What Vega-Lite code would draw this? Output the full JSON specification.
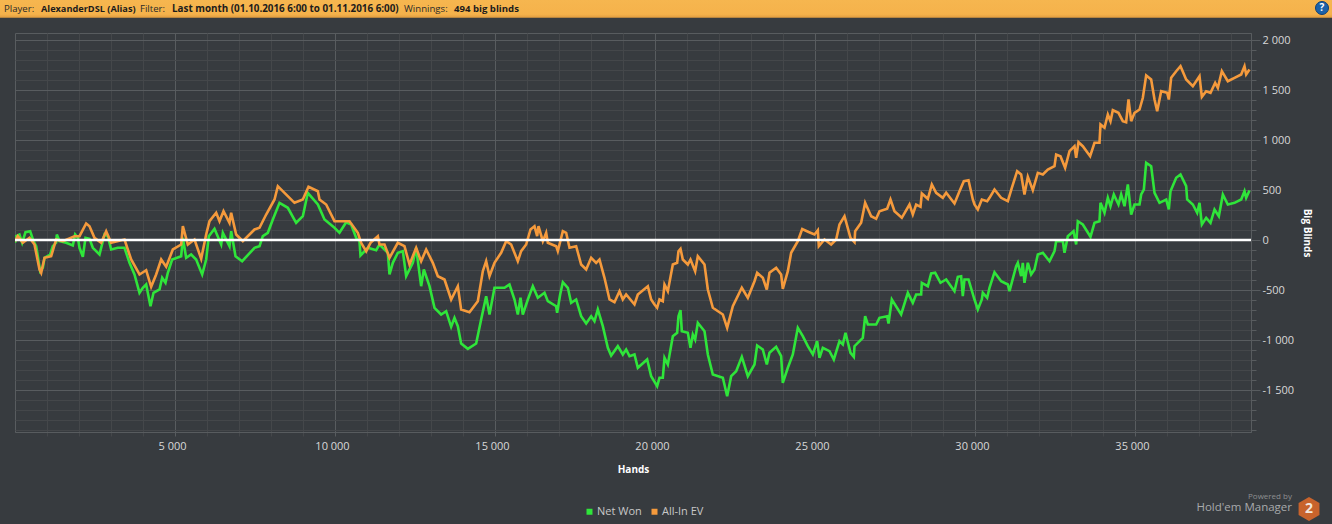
{
  "$schema": "https://vega.github.io/schema/vega-lite/v6.json",
  "description": "Hold'em Manager winnings graph, net won against all-in EV.",
  "width": 1236,
  "height": 399,
  "autosize": "none",
  "padding": {"left": 15, "top": 33, "right": 81, "bottom": 92},
  "background": "#373b3f",
  "view": {"stroke": "#585c5f", "strokeWidth": 1},
  "datasets": {
    "curves": [
      {"hands":0,"series":"Net Won","bb":-28},{"hands":36,"series":"Net Won","bb":38},{"hands":140,"series":"Net Won","bb":55},{"hands":224,"series":"Net Won","bb":-28},{"hands":328,"series":"Net Won","bb":78},{"hands":474,"series":"Net Won","bb":88},{"hands":578,"series":"Net Won","bb":-12},{"hands":661,"series":"Net Won","bb":-62},{"hands":713,"series":"Net Won","bb":-162},{"hands":786,"series":"Net Won","bb":-312},{"hands":870,"series":"Net Won","bb":-278},{"hands":922,"series":"Net Won","bb":-178},{"hands":1099,"series":"Net Won","bb":-145},{"hands":1182,"series":"Net Won","bb":-62},{"hands":1286,"series":"Net Won","bb":-28},{"hands":1307,"series":"Net Won","bb":55},{"hands":1390,"series":"Net Won","bb":-12},{"hands":1599,"series":"Net Won","bb":-28},{"hands":1807,"series":"Net Won","bb":-55},{"hands":1880,"series":"Net Won","bb":55},{"hands":1964,"series":"Net Won","bb":22},{"hands":2016,"series":"Net Won","bb":-78},{"hands":2120,"series":"Net Won","bb":-168},{"hands":2203,"series":"Net Won","bb":22},{"hands":2328,"series":"Net Won","bb":12},{"hands":2432,"series":"Net Won","bb":-78},{"hands":2641,"series":"Net Won","bb":-145},{"hands":2797,"series":"Net Won","bb":55},{"hands":2901,"series":"Net Won","bb":38},{"hands":3005,"series":"Net Won","bb":-95},{"hands":3214,"series":"Net Won","bb":-78},{"hands":3422,"series":"Net Won","bb":-78},{"hands":3578,"series":"Net Won","bb":-228},{"hands":3734,"series":"Net Won","bb":-345},{"hands":3891,"series":"Net Won","bb":-528},{"hands":3995,"series":"Net Won","bb":-478},{"hands":4099,"series":"Net Won","bb":-445},{"hands":4234,"series":"Net Won","bb":-662},{"hands":4328,"series":"Net Won","bb":-528},{"hands":4516,"series":"Net Won","bb":-495},{"hands":4599,"series":"Net Won","bb":-378},{"hands":4703,"series":"Net Won","bb":-428},{"hands":4776,"series":"Net Won","bb":-328},{"hands":4911,"series":"Net Won","bb":-195},{"hands":5193,"series":"Net Won","bb":-162},{"hands":5245,"series":"Net Won","bb":22},{"hands":5349,"series":"Net Won","bb":-178},{"hands":5505,"series":"Net Won","bb":-145},{"hands":5661,"series":"Net Won","bb":-195},{"hands":5849,"series":"Net Won","bb":-345},{"hands":5974,"series":"Net Won","bb":-195},{"hands":6057,"series":"Net Won","bb":38},{"hands":6234,"series":"Net Won","bb":112},{"hands":6443,"series":"Net Won","bb":-45},{"hands":6495,"series":"Net Won","bb":72},{"hands":6703,"series":"Net Won","bb":-62},{"hands":6755,"series":"Net Won","bb":88},{"hands":6891,"series":"Net Won","bb":-162},{"hands":7099,"series":"Net Won","bb":-212},{"hands":7485,"series":"Net Won","bb":-78},{"hands":7641,"series":"Net Won","bb":-62},{"hands":7745,"series":"Net Won","bb":38},{"hands":7901,"series":"Net Won","bb":72},{"hands":8057,"series":"Net Won","bb":205},{"hands":8266,"series":"Net Won","bb":372},{"hands":8526,"series":"Net Won","bb":322},{"hands":8786,"series":"Net Won","bb":172},{"hands":8995,"series":"Net Won","bb":238},{"hands":9151,"series":"Net Won","bb":472},{"hands":9464,"series":"Net Won","bb":355},{"hands":9672,"series":"Net Won","bb":205},{"hands":9984,"series":"Net Won","bb":122},{"hands":10140,"series":"Net Won","bb":72},{"hands":10349,"series":"Net Won","bb":178},{"hands":10505,"series":"Net Won","bb":155},{"hands":10661,"series":"Net Won","bb":22},{"hands":10765,"series":"Net Won","bb":-12},{"hands":10797,"series":"Net Won","bb":-155},{"hands":11026,"series":"Net Won","bb":-78},{"hands":11286,"series":"Net Won","bb":-102},{"hands":11390,"series":"Net Won","bb":-45},{"hands":11651,"series":"Net Won","bb":-128},{"hands":11703,"series":"Net Won","bb":-345},{"hands":11807,"series":"Net Won","bb":-228},{"hands":11963,"series":"Net Won","bb":-128},{"hands":12120,"series":"Net Won","bb":-112},{"hands":12224,"series":"Net Won","bb":-362},{"hands":12432,"series":"Net Won","bb":-228},{"hands":12536,"series":"Net Won","bb":-78},{"hands":12692,"series":"Net Won","bb":-462},{"hands":12776,"series":"Net Won","bb":-295},{"hands":12953,"series":"Net Won","bb":-462},{"hands":13109,"series":"Net Won","bb":-678},{"hands":13317,"series":"Net Won","bb":-745},{"hands":13474,"series":"Net Won","bb":-712},{"hands":13630,"series":"Net Won","bb":-868},{"hands":13734,"series":"Net Won","bb":-778},{"hands":13838,"series":"Net Won","bb":-862},{"hands":13942,"series":"Net Won","bb":-1035},{"hands":14151,"series":"Net Won","bb":-1088},{"hands":14411,"series":"Net Won","bb":-1035},{"hands":14567,"series":"Net Won","bb":-795},{"hands":14724,"series":"Net Won","bb":-562},{"hands":14828,"series":"Net Won","bb":-745},{"hands":14984,"series":"Net Won","bb":-478},{"hands":15140,"series":"Net Won","bb":-478},{"hands":15297,"series":"Net Won","bb":-478},{"hands":15453,"series":"Net Won","bb":-445},{"hands":15609,"series":"Net Won","bb":-595},{"hands":15713,"series":"Net Won","bb":-745},{"hands":15797,"series":"Net Won","bb":-578},{"hands":15869,"series":"Net Won","bb":-745},{"hands":16026,"series":"Net Won","bb":-595},{"hands":16182,"series":"Net Won","bb":-462},{"hands":16338,"series":"Net Won","bb":-578},{"hands":16547,"series":"Net Won","bb":-528},{"hands":16651,"series":"Net Won","bb":-612},{"hands":16911,"series":"Net Won","bb":-662},{"hands":16942,"series":"Net Won","bb":-728},{"hands":17036,"series":"Net Won","bb":-545},{"hands":17120,"series":"Net Won","bb":-422},{"hands":17276,"series":"Net Won","bb":-478},{"hands":17380,"series":"Net Won","bb":-628},{"hands":17536,"series":"Net Won","bb":-595},{"hands":17692,"series":"Net Won","bb":-762},{"hands":17849,"series":"Net Won","bb":-835},{"hands":18005,"series":"Net Won","bb":-762},{"hands":18109,"series":"Net Won","bb":-812},{"hands":18213,"series":"Net Won","bb":-695},{"hands":18369,"series":"Net Won","bb":-862},{"hands":18526,"series":"Net Won","bb":-1078},{"hands":18630,"series":"Net Won","bb":-1155},{"hands":18838,"series":"Net Won","bb":-1062},{"hands":18994,"series":"Net Won","bb":-1145},{"hands":19098,"series":"Net Won","bb":-1095},{"hands":19203,"series":"Net Won","bb":-1162},{"hands":19359,"series":"Net Won","bb":-1145},{"hands":19463,"series":"Net Won","bb":-1278},{"hands":19755,"series":"Net Won","bb":-1195},{"hands":19880,"series":"Net Won","bb":-1362},{"hands":20067,"series":"Net Won","bb":-1462},{"hands":20140,"series":"Net Won","bb":-1378},{"hands":20244,"series":"Net Won","bb":-1378},{"hands":20297,"series":"Net Won","bb":-1178},{"hands":20401,"series":"Net Won","bb":-1245},{"hands":20557,"series":"Net Won","bb":-962},{"hands":20692,"series":"Net Won","bb":-928},{"hands":20734,"series":"Net Won","bb":-762},{"hands":20797,"series":"Net Won","bb":-702},{"hands":20838,"series":"Net Won","bb":-912},{"hands":21026,"series":"Net Won","bb":-928},{"hands":21109,"series":"Net Won","bb":-1078},{"hands":21182,"series":"Net Won","bb":-945},{"hands":21255,"series":"Net Won","bb":-995},{"hands":21338,"series":"Net Won","bb":-828},{"hands":21547,"series":"Net Won","bb":-912},{"hands":21651,"series":"Net Won","bb":-1145},{"hands":21807,"series":"Net Won","bb":-1345},{"hands":22120,"series":"Net Won","bb":-1378},{"hands":22255,"series":"Net Won","bb":-1562},{"hands":22380,"series":"Net Won","bb":-1362},{"hands":22536,"series":"Net Won","bb":-1312},{"hands":22713,"series":"Net Won","bb":-1168},{"hands":22901,"series":"Net Won","bb":-1362},{"hands":23109,"series":"Net Won","bb":-1245},{"hands":23192,"series":"Net Won","bb":-1055},{"hands":23369,"series":"Net Won","bb":-1095},{"hands":23494,"series":"Net Won","bb":-1245},{"hands":23578,"series":"Net Won","bb":-1128},{"hands":23786,"series":"Net Won","bb":-1068},{"hands":23942,"series":"Net Won","bb":-1162},{"hands":23994,"series":"Net Won","bb":-1428},{"hands":24151,"series":"Net Won","bb":-1278},{"hands":24307,"series":"Net Won","bb":-1145},{"hands":24463,"series":"Net Won","bb":-878},{"hands":24619,"series":"Net Won","bb":-962},{"hands":24776,"series":"Net Won","bb":-1062},{"hands":24932,"series":"Net Won","bb":-1145},{"hands":25067,"series":"Net Won","bb":-1012},{"hands":25140,"series":"Net Won","bb":-1178},{"hands":25244,"series":"Net Won","bb":-1078},{"hands":25453,"series":"Net Won","bb":-1112},{"hands":25588,"series":"Net Won","bb":-1195},{"hands":25765,"series":"Net Won","bb":-1012},{"hands":25869,"series":"Net Won","bb":-1045},{"hands":25953,"series":"Net Won","bb":-928},{"hands":26109,"series":"Net Won","bb":-1128},{"hands":26213,"series":"Net Won","bb":-1168},{"hands":26234,"series":"Net Won","bb":-1062},{"hands":26494,"series":"Net Won","bb":-978},{"hands":26567,"series":"Net Won","bb":-762},{"hands":26651,"series":"Net Won","bb":-845},{"hands":26911,"series":"Net Won","bb":-845},{"hands":27015,"series":"Net Won","bb":-778},{"hands":27255,"series":"Net Won","bb":-762},{"hands":27297,"series":"Net Won","bb":-835},{"hands":27401,"series":"Net Won","bb":-595},{"hands":27692,"series":"Net Won","bb":-745},{"hands":27901,"series":"Net Won","bb":-528},{"hands":28057,"series":"Net Won","bb":-628},{"hands":28161,"series":"Net Won","bb":-545},{"hands":28317,"series":"Net Won","bb":-545},{"hands":28338,"series":"Net Won","bb":-428},{"hands":28526,"series":"Net Won","bb":-462},{"hands":28630,"series":"Net Won","bb":-335},{"hands":28755,"series":"Net Won","bb":-328},{"hands":28922,"series":"Net Won","bb":-428},{"hands":29099,"series":"Net Won","bb":-395},{"hands":29359,"series":"Net Won","bb":-512},{"hands":29463,"series":"Net Won","bb":-368},{"hands":29567,"series":"Net Won","bb":-362},{"hands":29619,"series":"Net Won","bb":-562},{"hands":29671,"series":"Net Won","bb":-395},{"hands":29797,"series":"Net Won","bb":-395},{"hands":29984,"series":"Net Won","bb":-595},{"hands":30088,"series":"Net Won","bb":-695},{"hands":30213,"series":"Net Won","bb":-595},{"hands":30244,"series":"Net Won","bb":-528},{"hands":30380,"series":"Net Won","bb":-578},{"hands":30453,"series":"Net Won","bb":-478},{"hands":30609,"series":"Net Won","bb":-322},{"hands":30817,"series":"Net Won","bb":-412},{"hands":31026,"series":"Net Won","bb":-445},{"hands":31078,"series":"Net Won","bb":-512},{"hands":31286,"series":"Net Won","bb":-262},{"hands":31338,"series":"Net Won","bb":-228},{"hands":31442,"series":"Net Won","bb":-362},{"hands":31494,"series":"Net Won","bb":-228},{"hands":31546,"series":"Net Won","bb":-428},{"hands":31651,"series":"Net Won","bb":-228},{"hands":31755,"series":"Net Won","bb":-345},{"hands":31859,"series":"Net Won","bb":-295},{"hands":31963,"series":"Net Won","bb":-145},{"hands":32120,"series":"Net Won","bb":-128},{"hands":32328,"series":"Net Won","bb":-212},{"hands":32484,"series":"Net Won","bb":-112},{"hands":32536,"series":"Net Won","bb":-12},{"hands":32745,"series":"Net Won","bb":-12},{"hands":32797,"series":"Net Won","bb":-128},{"hands":32901,"series":"Net Won","bb":38},{"hands":33078,"series":"Net Won","bb":88},{"hands":33161,"series":"Net Won","bb":-45},{"hands":33213,"series":"Net Won","bb":188},{"hands":33369,"series":"Net Won","bb":155},{"hands":33609,"series":"Net Won","bb":32},{"hands":33734,"series":"Net Won","bb":172},{"hands":33890,"series":"Net Won","bb":188},{"hands":33922,"series":"Net Won","bb":372},{"hands":34047,"series":"Net Won","bb":272},{"hands":34151,"series":"Net Won","bb":422},{"hands":34234,"series":"Net Won","bb":338},{"hands":34338,"series":"Net Won","bb":455},{"hands":34484,"series":"Net Won","bb":355},{"hands":34567,"series":"Net Won","bb":455},{"hands":34672,"series":"Net Won","bb":338},{"hands":34776,"series":"Net Won","bb":555},{"hands":34880,"series":"Net Won","bb":255},{"hands":34984,"series":"Net Won","bb":355},{"hands":35141,"series":"Net Won","bb":355},{"hands":35193,"series":"Net Won","bb":455},{"hands":35276,"series":"Net Won","bb":505},{"hands":35349,"series":"Net Won","bb":772},{"hands":35505,"series":"Net Won","bb":738},{"hands":35610,"series":"Net Won","bb":472},{"hands":35766,"series":"Net Won","bb":372},{"hands":35974,"series":"Net Won","bb":405},{"hands":36057,"series":"Net Won","bb":305},{"hands":36109,"series":"Net Won","bb":488},{"hands":36287,"series":"Net Won","bb":622},{"hands":36422,"series":"Net Won","bb":655},{"hands":36599,"series":"Net Won","bb":538},{"hands":36630,"series":"Net Won","bb":405},{"hands":36807,"series":"Net Won","bb":355},{"hands":36943,"series":"Net Won","bb":272},{"hands":37016,"series":"Net Won","bb":372},{"hands":37089,"series":"Net Won","bb":155},{"hands":37224,"series":"Net Won","bb":222},{"hands":37360,"series":"Net Won","bb":172},{"hands":37485,"series":"Net Won","bb":305},{"hands":37620,"series":"Net Won","bb":238},{"hands":37745,"series":"Net Won","bb":455},{"hands":37901,"series":"Net Won","bb":355},{"hands":38110,"series":"Net Won","bb":372},{"hands":38318,"series":"Net Won","bb":405},{"hands":38422,"series":"Net Won","bb":488},{"hands":38474,"series":"Net Won","bb":422},{"hands":38578,"series":"Net Won","bb":495},
      {"hands":0,"series":"All-In EV","bb":-12},{"hands":88,"series":"All-In EV","bb":38},{"hands":245,"series":"All-In EV","bb":-28},{"hands":453,"series":"All-In EV","bb":22},{"hands":609,"series":"All-In EV","bb":-45},{"hands":766,"series":"All-In EV","bb":-295},{"hands":818,"series":"All-In EV","bb":-328},{"hands":922,"series":"All-In EV","bb":-178},{"hands":1130,"series":"All-In EV","bb":-162},{"hands":1286,"series":"All-In EV","bb":5},{"hands":1495,"series":"All-In EV","bb":-12},{"hands":1859,"series":"All-In EV","bb":38},{"hands":2016,"series":"All-In EV","bb":38},{"hands":2224,"series":"All-In EV","bb":165},{"hands":2328,"series":"All-In EV","bb":138},{"hands":2484,"series":"All-In EV","bb":22},{"hands":2693,"series":"All-In EV","bb":-28},{"hands":2849,"series":"All-In EV","bb":88},{"hands":3005,"series":"All-In EV","bb":-28},{"hands":3422,"series":"All-In EV","bb":5},{"hands":3630,"series":"All-In EV","bb":-195},{"hands":3891,"series":"All-In EV","bb":-345},{"hands":4099,"series":"All-In EV","bb":-302},{"hands":4255,"series":"All-In EV","bb":-468},{"hands":4411,"series":"All-In EV","bb":-345},{"hands":4568,"series":"All-In EV","bb":-195},{"hands":4724,"series":"All-In EV","bb":-268},{"hands":4932,"series":"All-In EV","bb":-95},{"hands":5193,"series":"All-In EV","bb":-45},{"hands":5245,"series":"All-In EV","bb":138},{"hands":5401,"series":"All-In EV","bb":-45},{"hands":5609,"series":"All-In EV","bb":5},{"hands":5818,"series":"All-In EV","bb":-188},{"hands":5974,"series":"All-In EV","bb":55},{"hands":6078,"series":"All-In EV","bb":188},{"hands":6287,"series":"All-In EV","bb":272},{"hands":6391,"series":"All-In EV","bb":188},{"hands":6516,"series":"All-In EV","bb":288},{"hands":6703,"series":"All-In EV","bb":172},{"hands":6755,"series":"All-In EV","bb":272},{"hands":6911,"series":"All-In EV","bb":55},{"hands":7120,"series":"All-In EV","bb":-12},{"hands":7485,"series":"All-In EV","bb":105},{"hands":7641,"series":"All-In EV","bb":122},{"hands":7849,"series":"All-In EV","bb":255},{"hands":8110,"series":"All-In EV","bb":405},{"hands":8214,"series":"All-In EV","bb":538},{"hands":8422,"series":"All-In EV","bb":472},{"hands":8735,"series":"All-In EV","bb":372},{"hands":8995,"series":"All-In EV","bb":405},{"hands":9172,"series":"All-In EV","bb":532},{"hands":9464,"series":"All-In EV","bb":488},{"hands":9516,"series":"All-In EV","bb":405},{"hands":9724,"series":"All-In EV","bb":355},{"hands":9984,"series":"All-In EV","bb":188},{"hands":10453,"series":"All-In EV","bb":188},{"hands":10713,"series":"All-In EV","bb":72},{"hands":10817,"series":"All-In EV","bb":-28},{"hands":10974,"series":"All-In EV","bb":-112},{"hands":11109,"series":"All-In EV","bb":-28},{"hands":11338,"series":"All-In EV","bb":38},{"hands":11390,"series":"All-In EV","bb":-45},{"hands":11547,"series":"All-In EV","bb":-45},{"hands":11703,"series":"All-In EV","bb":-178},{"hands":11963,"series":"All-In EV","bb":-28},{"hands":12171,"series":"All-In EV","bb":-62},{"hands":12328,"series":"All-In EV","bb":-245},{"hands":12536,"series":"All-In EV","bb":-78},{"hands":12692,"series":"All-In EV","bb":-212},{"hands":12849,"series":"All-In EV","bb":-95},{"hands":13057,"series":"All-In EV","bb":-228},{"hands":13213,"series":"All-In EV","bb":-362},{"hands":13422,"series":"All-In EV","bb":-395},{"hands":13630,"series":"All-In EV","bb":-595},{"hands":13838,"series":"All-In EV","bb":-462},{"hands":13942,"series":"All-In EV","bb":-695},{"hands":14203,"series":"All-In EV","bb":-722},{"hands":14463,"series":"All-In EV","bb":-612},{"hands":14619,"series":"All-In EV","bb":-312},{"hands":14724,"series":"All-In EV","bb":-212},{"hands":14828,"series":"All-In EV","bb":-362},{"hands":14984,"series":"All-In EV","bb":-228},{"hands":15192,"series":"All-In EV","bb":-128},{"hands":15349,"series":"All-In EV","bb":-12},{"hands":15505,"series":"All-In EV","bb":-45},{"hands":15713,"series":"All-In EV","bb":-212},{"hands":15817,"series":"All-In EV","bb":-112},{"hands":15974,"series":"All-In EV","bb":-45},{"hands":16109,"series":"All-In EV","bb":105},{"hands":16234,"series":"All-In EV","bb":138},{"hands":16317,"series":"All-In EV","bb":38},{"hands":16359,"series":"All-In EV","bb":138},{"hands":16495,"series":"All-In EV","bb":-12},{"hands":16599,"series":"All-In EV","bb":72},{"hands":16651,"series":"All-In EV","bb":-28},{"hands":16911,"series":"All-In EV","bb":-62},{"hands":16963,"series":"All-In EV","bb":-112},{"hands":17120,"series":"All-In EV","bb":88},{"hands":17224,"series":"All-In EV","bb":72},{"hands":17328,"series":"All-In EV","bb":-78},{"hands":17536,"series":"All-In EV","bb":-62},{"hands":17692,"series":"All-In EV","bb":-245},{"hands":17849,"series":"All-In EV","bb":-295},{"hands":18005,"series":"All-In EV","bb":-178},{"hands":18161,"series":"All-In EV","bb":-228},{"hands":18265,"series":"All-In EV","bb":-195},{"hands":18421,"series":"All-In EV","bb":-378},{"hands":18578,"series":"All-In EV","bb":-595},{"hands":18734,"series":"All-In EV","bb":-622},{"hands":18890,"series":"All-In EV","bb":-512},{"hands":18994,"series":"All-In EV","bb":-595},{"hands":19098,"series":"All-In EV","bb":-545},{"hands":19359,"series":"All-In EV","bb":-645},{"hands":19463,"series":"All-In EV","bb":-545},{"hands":19776,"series":"All-In EV","bb":-462},{"hands":19880,"series":"All-In EV","bb":-595},{"hands":19984,"series":"All-In EV","bb":-645},{"hands":20067,"series":"All-In EV","bb":-678},{"hands":20140,"series":"All-In EV","bb":-595},{"hands":20244,"series":"All-In EV","bb":-612},{"hands":20297,"series":"All-In EV","bb":-445},{"hands":20401,"series":"All-In EV","bb":-512},{"hands":20557,"series":"All-In EV","bb":-245},{"hands":20692,"series":"All-In EV","bb":-228},{"hands":20734,"series":"All-In EV","bb":-112},{"hands":20797,"series":"All-In EV","bb":-88},{"hands":20869,"series":"All-In EV","bb":-195},{"hands":21026,"series":"All-In EV","bb":-245},{"hands":21109,"series":"All-In EV","bb":-195},{"hands":21255,"series":"All-In EV","bb":-312},{"hands":21338,"series":"All-In EV","bb":-162},{"hands":21547,"series":"All-In EV","bb":-245},{"hands":21651,"series":"All-In EV","bb":-495},{"hands":21807,"series":"All-In EV","bb":-678},{"hands":22120,"series":"All-In EV","bb":-745},{"hands":22255,"series":"All-In EV","bb":-878},{"hands":22432,"series":"All-In EV","bb":-662},{"hands":22713,"series":"All-In EV","bb":-478},{"hands":22901,"series":"All-In EV","bb":-578},{"hands":23109,"series":"All-In EV","bb":-412},{"hands":23192,"series":"All-In EV","bb":-328},{"hands":23369,"series":"All-In EV","bb":-378},{"hands":23494,"series":"All-In EV","bb":-495},{"hands":23578,"series":"All-In EV","bb":-328},{"hands":23786,"series":"All-In EV","bb":-278},{"hands":23942,"series":"All-In EV","bb":-345},{"hands":23994,"series":"All-In EV","bb":-488},{"hands":24151,"series":"All-In EV","bb":-312},{"hands":24255,"series":"All-In EV","bb":-128},{"hands":24463,"series":"All-In EV","bb":-12},{"hands":24600,"series":"All-In EV","bb":110},{"hands":24800,"series":"All-In EV","bb":80},{"hands":24984,"series":"All-In EV","bb":55},{"hands":25088,"series":"All-In EV","bb":98},{"hands":25119,"series":"All-In EV","bb":-62},{"hands":25297,"series":"All-In EV","bb":5},{"hands":25505,"series":"All-In EV","bb":-45},{"hands":25661,"series":"All-In EV","bb":5},{"hands":25765,"series":"All-In EV","bb":155},{"hands":25922,"series":"All-In EV","bb":238},{"hands":26109,"series":"All-In EV","bb":22},{"hands":26234,"series":"All-In EV","bb":-22},{"hands":26255,"series":"All-In EV","bb":88},{"hands":26442,"series":"All-In EV","bb":172},{"hands":26567,"series":"All-In EV","bb":372},{"hands":26755,"series":"All-In EV","bb":238},{"hands":26911,"series":"All-In EV","bb":212},{"hands":27015,"series":"All-In EV","bb":288},{"hands":27255,"series":"All-In EV","bb":312},{"hands":27359,"series":"All-In EV","bb":405},{"hands":27484,"series":"All-In EV","bb":288},{"hands":27713,"series":"All-In EV","bb":222},{"hands":27953,"series":"All-In EV","bb":355},{"hands":28057,"series":"All-In EV","bb":255},{"hands":28161,"series":"All-In EV","bb":355},{"hands":28297,"series":"All-In EV","bb":332},{"hands":28338,"series":"All-In EV","bb":465},{"hands":28526,"series":"All-In EV","bb":412},{"hands":28651,"series":"All-In EV","bb":555},{"hands":28786,"series":"All-In EV","bb":472},{"hands":28994,"series":"All-In EV","bb":422},{"hands":29099,"series":"All-In EV","bb":472},{"hands":29359,"series":"All-In EV","bb":365},{"hands":29515,"series":"All-In EV","bb":488},{"hands":29651,"series":"All-In EV","bb":588},{"hands":29797,"series":"All-In EV","bb":598},{"hands":29932,"series":"All-In EV","bb":405},{"hands":29984,"series":"All-In EV","bb":355},{"hands":30088,"series":"All-In EV","bb":305},{"hands":30213,"series":"All-In EV","bb":405},{"hands":30380,"series":"All-In EV","bb":388},{"hands":30453,"series":"All-In EV","bb":422},{"hands":30609,"series":"All-In EV","bb":505},{"hands":30817,"series":"All-In EV","bb":422},{"hands":31026,"series":"All-In EV","bb":388},{"hands":31151,"series":"All-In EV","bb":522},{"hands":31317,"series":"All-In EV","bb":688},{"hands":31442,"series":"All-In EV","bb":655},{"hands":31546,"series":"All-In EV","bb":455},{"hands":31651,"series":"All-In EV","bb":632},{"hands":31807,"series":"All-In EV","bb":498},{"hands":31963,"series":"All-In EV","bb":672},{"hands":32120,"series":"All-In EV","bb":655},{"hands":32276,"series":"All-In EV","bb":705},{"hands":32484,"series":"All-In EV","bb":738},{"hands":32536,"series":"All-In EV","bb":855},{"hands":32671,"series":"All-In EV","bb":838},{"hands":32817,"series":"All-In EV","bb":722},{"hands":32953,"series":"All-In EV","bb":888},{"hands":33109,"series":"All-In EV","bb":938},{"hands":33161,"series":"All-In EV","bb":822},{"hands":33234,"series":"All-In EV","bb":978},{"hands":33369,"series":"All-In EV","bb":938},{"hands":33598,"series":"All-In EV","bb":838},{"hands":33734,"series":"All-In EV","bb":972},{"hands":33890,"series":"All-In EV","bb":972},{"hands":33922,"series":"All-In EV","bb":1155},{"hands":34047,"series":"All-In EV","bb":1122},{"hands":34151,"series":"All-In EV","bb":1255},{"hands":34234,"series":"All-In EV","bb":1188},{"hands":34307,"series":"All-In EV","bb":1298},{"hands":34484,"series":"All-In EV","bb":1272},{"hands":34619,"series":"All-In EV","bb":1188},{"hands":34723,"series":"All-In EV","bb":1178},{"hands":34797,"series":"All-In EV","bb":1405},{"hands":34880,"series":"All-In EV","bb":1188},{"hands":34984,"series":"All-In EV","bb":1272},{"hands":35141,"series":"All-In EV","bb":1305},{"hands":35245,"series":"All-In EV","bb":1422},{"hands":35349,"series":"All-In EV","bb":1645},{"hands":35505,"series":"All-In EV","bb":1605},{"hands":35610,"series":"All-In EV","bb":1405},{"hands":35693,"series":"All-In EV","bb":1288},{"hands":35818,"series":"All-In EV","bb":1488},{"hands":36005,"series":"All-In EV","bb":1472},{"hands":36057,"series":"All-In EV","bb":1405},{"hands":36130,"series":"All-In EV","bb":1622},{"hands":36287,"series":"All-In EV","bb":1688},{"hands":36422,"series":"All-In EV","bb":1738},{"hands":36599,"series":"All-In EV","bb":1605},{"hands":36807,"series":"All-In EV","bb":1538},{"hands":37016,"series":"All-In EV","bb":1638},{"hands":37089,"series":"All-In EV","bb":1432},{"hands":37224,"series":"All-In EV","bb":1488},{"hands":37360,"series":"All-In EV","bb":1472},{"hands":37505,"series":"All-In EV","bb":1572},{"hands":37589,"series":"All-In EV","bb":1522},{"hands":37714,"series":"All-In EV","bb":1688},{"hands":37901,"series":"All-In EV","bb":1588},{"hands":38110,"series":"All-In EV","bb":1622},{"hands":38318,"series":"All-In EV","bb":1655},{"hands":38422,"series":"All-In EV","bb":1738},{"hands":38474,"series":"All-In EV","bb":1655},{"hands":38578,"series":"All-In EV","bb":1705}
    ],
    "one": [{}]
  },
  "resolve": {"axis": {"x": "independent", "y": "independent"}},
  "layer": [
    {
      "data": {"name": "one"},
      "mark": {"type": "point", "opacity": 0},
      "encoding": {
        "x": {
          "datum": 0,
          "axis": {
            "orient": "bottom",
            "values": [1000,2000,3000,4000,6000,7000,8000,9000,11000,12000,13000,14000,16000,17000,18000,19000,21000,22000,23000,24000,26000,27000,28000,29000,31000,32000,33000,34000,36000,37000,38000],
            "labels": false, "domain": false, "title": null,
            "grid": true, "gridColor": "#44474a", "gridWidth": 1,
            "tickColor": "#44474a", "tickSize": 4
          }
        },
        "y": {
          "datum": 0,
          "axis": {
            "orient": "right",
            "values": [-1900,-1800,-1700,-1600,-1400,-1300,-1200,-1100,-900,-800,-700,-600,-400,-300,-200,-100,100,200,300,400,600,700,800,900,1100,1200,1300,1400,1600,1700,1800,1900],
            "labels": false, "domain": false, "title": null,
            "grid": true, "gridColor": "#44474a", "gridWidth": 1,
            "tickColor": "#585c5f", "tickSize": 5
          }
        }
      }
    },
    {
      "data": {"name": "curves"},
      "mark": {"type": "line", "strokeWidth": 2.6, "strokeJoin": "miter", "clip": true},
      "encoding": {
        "x": {
          "field": "hands",
          "type": "quantitative",
          "scale": {"domain": [0, 38625], "nice": false, "zero": false},
          "axis": {
            "orient": "bottom",
            "values": [5000,10000,15000,20000,25000,30000,35000],
            "title": "Hands", "titleColor": "#ffffff", "titleFont": "Open Sans", "titleFontSize": 10, "titleFontWeight": "bold", "titlePadding": 13,
            "labelExpr": "replace(format(datum.value, ','), ',', ' ')",
            "labelColor": "#d8d8d8", "labelFont": "Open Sans", "labelFontSize": 11, "labelPadding": 4, "labelOffset": -3,
            "domain": true, "domainColor": "#585c5f",
            "grid": true, "gridColor": "#585c5f", "gridWidth": 1,
            "tickColor": "#585c5f", "tickSize": 4
          }
        },
        "y": {
          "field": "bb",
          "type": "quantitative",
          "scale": {"domain": [-1920, 2070], "nice": false, "zero": false},
          "axis": {
            "orient": "right",
            "values": [-1500,-1000,-500,0,500,1000,1500,2000],
            "title": "Big Blinds", "titleColor": "#ffffff", "titleFont": "Open Sans", "titleFontSize": 10, "titleFontWeight": "bold", "titlePadding": 8,
            "labelExpr": "replace(replace(format(datum.value, ','), ',', ' '), '\u2212', '-')",
            "labelColor": "#d8d8d8", "labelFont": "Open Sans", "labelFontSize": 11, "labelPadding": 2,
            "domain": true, "domainColor": "#585c5f",
            "grid": true, "gridColor": "#585c5f", "gridWidth": 1,
            "tickColor": "#585c5f", "tickSize": 9
          }
        },
        "color": {
          "field": "series",
          "type": "nominal",
          "sort": ["Net Won", "All-In EV"],
          "scale": {"domain": ["Net Won", "All-In EV"], "range": ["#2fe53a", "#f59a3c"]},
          "legend": {
            "orient": "none", "legendX": 569, "legendY": 473,
            "direction": "horizontal", "title": null,
            "symbolType": "square", "symbolSize": 36, "symbolStrokeWidth": 0,
            "labelColor": "#c8c8c8", "labelFont": "Open Sans", "labelFontSize": 11, "labelOffset": 2, "columnPadding": 7,
            "encode": {"symbols": {"update": {"fill": {"scale": "color", "field": "value"}}}}
          }
        }
      }
    },
    {
      "data": {"name": "one"},
      "mark": {"type": "rule", "color": "#ffffff", "strokeWidth": 2.6},
      "encoding": {"y": {"datum": 0, "axis": null}}
    },
    {
      "data": {"name": "one"},
      "mark": {
        "type": "rect",
        "clip": false,
        "color": {
          "gradient": "linear", "x1": 0, "y1": 0, "x2": 0, "y2": 1,
          "stops": [{"offset": 0, "color": "#f6b64f"}, {"offset": 0.8, "color": "#f5b24b"}, {"offset": 1, "color": "#e09c3f"}]
        }
      },
      "encoding": {
        "x": {"datum": -469, "axis": null},
        "x2": {"datum": 41156},
        "y": {"datum": 2400, "axis": null},
        "y2": {"datum": 2222}
      }
    },
    {
      "data": {"values": [{"part": "Player:"}]},
      "mark": {"type": "text", "align": "left", "baseline": "middle", "font": "Open Sans", "fontSize": 9.6, "color": "#2a2a2a"},
      "encoding": {"x": {"datum": -344, "axis": null}, "y": {"datum": 2312, "axis": null}, "text": {"field": "part"}}
    },
    {
      "data": {"values": [{"part": "AlexanderDSL (Alias)"}]},
      "mark": {"type": "text", "align": "left", "baseline": "middle", "font": "Open Sans", "fontSize": 9.2, "fontWeight": "bold", "color": "#1c1c1c"},
      "encoding": {"x": {"datum": 812, "axis": null}, "y": {"datum": 2312, "axis": null}, "text": {"field": "part"}}
    },
    {
      "data": {"values": [{"part": "Filter:"}]},
      "mark": {"type": "text", "align": "left", "baseline": "middle", "font": "Open Sans", "fontSize": 9.6, "color": "#2a2a2a"},
      "encoding": {"x": {"datum": 3906, "axis": null}, "y": {"datum": 2312, "axis": null}, "text": {"field": "part"}}
    },
    {
      "data": {"values": [{"part": "Last month (01.10.2016 6:00 to 01.11.2016 6:00)"}]},
      "mark": {"type": "text", "align": "left", "baseline": "middle", "font": "Open Sans", "fontSize": 9.85, "fontWeight": "bold", "color": "#1c1c1c"},
      "encoding": {"x": {"datum": 4906, "axis": null}, "y": {"datum": 2312, "axis": null}, "text": {"field": "part"}}
    },
    {
      "data": {"values": [{"part": "Winnings:"}]},
      "mark": {"type": "text", "align": "left", "baseline": "middle", "font": "Open Sans", "fontSize": 9.6, "color": "#2a2a2a"},
      "encoding": {"x": {"datum": 12156, "axis": null}, "y": {"datum": 2312, "axis": null}, "text": {"field": "part"}}
    },
    {
      "data": {"values": [{"part": "494 big blinds"}]},
      "mark": {"type": "text", "align": "left", "baseline": "middle", "font": "Open Sans", "fontSize": 9.6, "fontWeight": "bold", "color": "#1c1c1c"},
      "encoding": {"x": {"datum": 13719, "axis": null}, "y": {"datum": 2312, "axis": null}, "text": {"field": "part"}}
    },
    {
      "data": {"name": "one"},
      "mark": {"type": "point", "shape": "circle", "filled": true, "size": 169, "color": "#1c62a8", "stroke": "#0f3f75", "strokeWidth": 1, "opacity": 1},
      "encoding": {"x": {"datum": 40844, "axis": null}, "y": {"datum": 2320, "axis": null}}
    },
    {
      "data": {"values": [{"part": "?"}]},
      "mark": {"type": "text", "align": "center", "baseline": "middle", "font": "Open Sans", "fontSize": 10, "fontWeight": "bold", "color": "#ffffff"},
      "encoding": {"x": {"datum": 40844, "axis": null}, "y": {"datum": 2320, "axis": null}, "text": {"field": "part"}}
    },
    {
      "data": {"values": [{"part": "Powered by"}]},
      "mark": {"type": "text", "align": "right", "baseline": "middle", "font": "Open Sans", "fontSize": 8, "color": "#8d8f91"},
      "encoding": {"x": {"datum": 39906, "axis": null}, "y": {"datum": -2570, "axis": null}, "text": {"field": "part"}}
    },
    {
      "data": {"values": [{"part": "Hold'em Manager"}]},
      "mark": {"type": "text", "align": "right", "baseline": "middle", "font": "Open Sans", "fontSize": 11.5, "color": "#a8aaac"},
      "encoding": {"x": {"datum": 39906, "axis": null}, "y": {"datum": -2680, "axis": null}, "text": {"field": "part"}}
    },
    {
      "data": {"name": "one"},
      "mark": {"type": "point", "shape": "M0,-1L0.87,-0.5L0.87,0.5L0,1L-0.87,0.5L-0.87,-0.5Z", "filled": true, "size": 576, "color": "#c8632c", "opacity": 1},
      "encoding": {"x": {"datum": 40438, "axis": null}, "y": {"datum": -2690, "axis": null}}
    },
    {
      "data": {"values": [{"part": "2"}]},
      "mark": {"type": "text", "align": "center", "baseline": "middle", "font": "Open Sans", "fontSize": 14, "fontWeight": "bold", "color": "#f2e6dc"},
      "encoding": {"x": {"datum": 40438, "axis": null}, "y": {"datum": -2690, "axis": null}, "text": {"field": "part"}}
    }
  ]
}
